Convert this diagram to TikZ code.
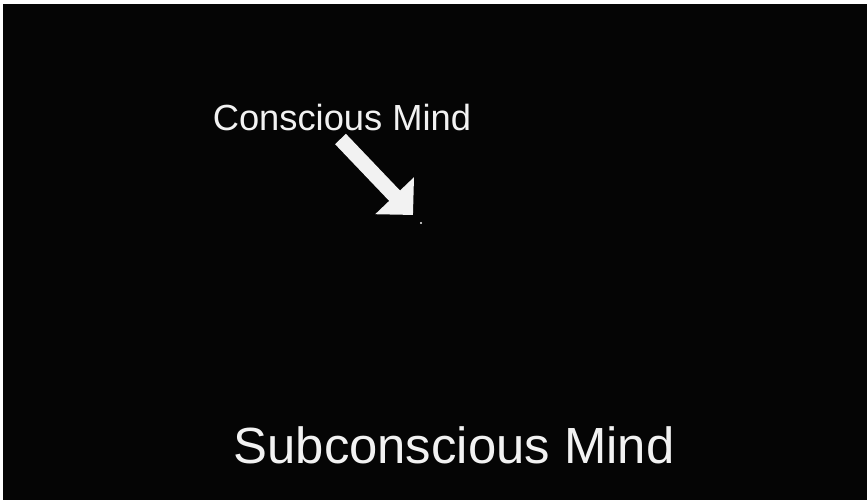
\documentclass[tikz,border=0pt]{standalone}
\usepackage{fontspec}
\setmainfont{Liberation Sans}
\usepackage{tikz}
\usetikzlibrary{arrows.meta, positioning, calc}
\definecolor{slideblack}{HTML}{050505}
\definecolor{chalkwhite}{HTML}{F2F2F2}
\tikzset{
	mindlabel/.style={anchor=base, inner sep=0pt, text=chalkwhite},
	bigarrow/.style={draw=chalkwhite, line width=0.45cm, -{Triangle[length=0.8cm, width=1.56cm]}},
	spot/.style={circle, fill=chalkwhite, inner sep=0pt, minimum size=0.07cm}
}

\begin{document}
\begin{tikzpicture}[x=0.03cm, y=-0.03cm]
		% Fondo de la diapositiva
		\fill[white] (0,0) rectangle (867,500);
		\useasboundingbox (0,0) rectangle (867,500);
		\fill[slideblack] (3,4) rectangle (867,500);
		
		% Textos
		\node (conscious) [mindlabel, font=\fontsize{31}{37}\selectfont] at (342,130) {Conscious Mind};
		\node (subconscious) [mindlabel, font=\fontsize{43.4}{52}\selectfont] at (454,463) {Subconscious Mind};
		
		% Punto y flecha
		\node (point) [spot] at (421,223) {};
		\coordinate (arrowtail) at (340.5,139);
		\coordinate (arrowtip) at (413,215);
		\draw [bigarrow] (arrowtail) -- (arrowtip);
	\end{tikzpicture}
\end{document}
